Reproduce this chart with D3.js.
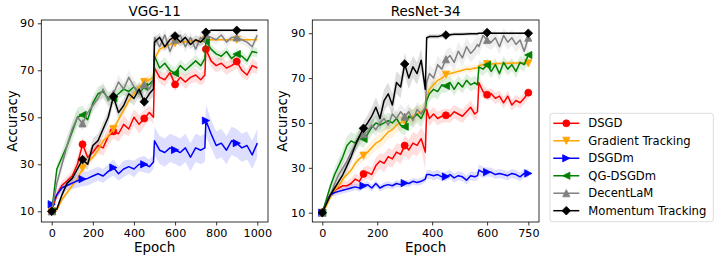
<!DOCTYPE html>
<html><head><meta charset="utf-8">
<script src="https://cdn.jsdelivr.net/npm/d3@7"></script>
<style>body{margin:0;background:#fff} svg{display:block;font-family:"DejaVu Sans",sans-serif}</style>
</head><body><svg id="c" width="719" height="260"></svg>
<script>
// ---------- DATA ----------
const methods = ["DSGD", "Gradient Tracking", "DSGDm", "QG-DSGDm", "DecentLaM", "Momentum Tracking"];
const colors = ["#ff0000", "#ffa500", "#0000ff", "#008000", "#808080", "#000000"];
const markerKinds = ["circle", "down", "right", "left", "up", "diamond"];
const yTicks = [10, 30, 50, 70, 90];

// VGG-11
const vggTitle = "VGG-11";
const vggXTicks = [0, 200, 400, 600, 800, 1000];
const vggMarkerEpochs = [0, 150, 300, 450, 600, 750, 900];
const vggEpochs = [0,25,50,75,100,125,150,175,200,225, 250,275,300,325,350,375,400,425,450,475, 495,500,525,550,575,600,625,650,675,700, 725,745,750,775,800,825,850,875,900,925, 950,975,1000];
const vggDSGD = [10,17,21,23,25,30,38.5,33,35,38, 37,42,44,43,47,45,50,47,49.5,52, 50,71,67,66,69,64,67,65,67,68, 66,68,79,74,72,73,71,72,73.7,70, 68,72,71];
const vggGT = [10,10.5,15,18,21,24,28.3,31,33,36, 40,42,45,49,53,57,60,63,65,66, 67,75,79,80,81,81.5,82,82,82.5,82.5, 82.5,82.5,82.9,83,83,83,83,83,83,83, 83,83,83];
const vggDSGDm = [13,17,20,21,22,23,23.7,24,25,26, 25,27,28.6,26,28,29,28,30,30,29, 31,40,36,35,37,36.1,35,37,33,37, 36,37,48.6,43,38,39,36,40,39,37, 38,34,39];
const vggQG = [10,28,33,38,44,50,51,49,56,60, 61,58,58,60,62,61,63,60,63,64, 66,76,71,73,70,68.7,72,70,72,74, 72,75,82.5,79,77,76,78,75,76.9,76, 74,78,77.5];
const vggDecentLaM = [10,22,30,38,45,50,47.4,52,55,58, 62,57,60,65,62,67,63,60,64,62, 66,84,80,85,78,83,85,80,84,79, 84,82,85,84,83,85,82,84,84,83, 82,80,85];
const vggMT = [10,11,17,22,24,28,32,30,38,40, 45,50,58.8,52,55,60,58,62,56.6,60, 62,82,84,80,83,84.6,82,84,81,83, 82,84,86.2,87,87,87,87,87,87,87, 87,87,87];
const vggDSGDStd = [0.5,1.5,2,2,2.5,3,3,3,3,3, 3.5,4,3,3.5,4,3,3.5,4,3.5,3, 3,3,2.5,3,2.5,3,2.5,3,2.5,3, 2.5,3,3,2.5,3,2.5,3,2.5,3,3, 2.5,3,2.5];
const vggGTStd = [0.5,0.5,1,1.5,1.5,2,2,2,2,2, 2,2,2,2,2,2,2,2,2,2, 2,2,1.5,1.5,1,1,1,1,1,1, 1,1,1,0.5,0.5,0.5,0.5,0.5,0.5,0.5, 0.5,0.5,0.5];
const vggDSGDmStd = [1,2,2,2,2.5,3,3,3,3,3, 3,3,3.5,3,3.5,3,3.5,3,3.5,3, 3,6,6,6,6,6,6,6,6,6, 6,6,7,6,6,6,6,6,6,6, 6,6,6];
const vggQGStd = [0.5,2,3,4,4,4,4,3,3,3, 3,3,2.5,2.5,2.5,2.5,2.5,2.5,2.5,2.5, 2.5,3,2.5,2.5,2.5,2.5,2.5,2.5,2.5,2.5, 2.5,2.5,2,2,2,2,2,2,2,2, 2,2,2];
const vggDecentLaMStd = [0.5,2,3,3,3,3,3,3,3,3, 3,3,3,3,3,3,3,3,3,3, 3,2.5,2.5,2.5,2.5,2.5,2.5,2.5,2.5,2.5, 2.5,2.5,2,2,2,2,2,2,2,2, 2,2,2];
const vggMTStd = [0.3,1,1.5,2,2,2.5,2.5,2.5,3,3, 3,3,3,3,3,3,3,3,3,3, 3,2,2,2,2,2,2,2,2,2, 2,2,1,0.5,0.5,0.5,0.5,0.5,0.5,0.5, 0.5,0.5,0.5];

// ResNet-34
const resTitle = "ResNet-34";
const resXTicks = [0, 200, 400, 600, 750];
const resMarkerEpochs = [0, 150, 300, 450, 600, 750];
const resEpochs = [0,15,30,45,60,75,90,105,120,135, 150,165,180,195,210,225,240,255,270,285, 300,315,330,345,360,375,380,390,405,420, 435,450,465,480,495,510,525,540,555,565, 570,585,600,615,630,645,660,675,690,705, 720,735,750];
const resDSGD = [10,15,18,20,21,22,22,23,25,24, 27.3,28,27,31,33,32,35,34,37,36, 39.9,38,41,40,43,37,56,52,54,52, 53,53.4,53,55,54,53,55,57,54,55, 68,64,62.6,63,61,62,59,62,58,60, 59,61,63.5];
const resGT = [10,13,17,20,22,25,27,29,32,34, 35.4,37,39,41,42,44,46,47,49,50, 51,52,53,54,55,56,62,65,67,69, 70,71.5,72,72.5,73,73.5,74,74,74.5,74.5, 75.5,76,76.2,76.3,76.4,76.5,76.5,76.6,76.6,76.7, 76.7,76.8,76.6];
const resDSGDm = [10,15,18,19,19.5,20,20.5,21,21.5,21, 22,22.5,21,23,21,22,22.5,22,23,22.5, 23.2,23,24,23.5,24,25,27,27,26.5,27, 26,26.1,27,25.5,26.5,26,24.5,26.5,26,26.5, 29,28,28.1,28,27,27.5,27,26.5,27.5,27, 26,27.5,27.5];
const resQG = [10,16,22,27,31,35,40,42,41,44, 42.9,45,48,50,49,50,51,50,52,49, 48.3,53,52,54,52,56,60,63,65,64, 67,66.5,68,65,68,66,69,67,68,67, 75,74,75.9,73,76,72,77,74,76,73, 77,76,80.3];
const resDecentLaM = [10,14,18,23,27,30,33,37,40,43, 45,46,49,47,50,52,49,54,52,55, 52.8,55,51,56,54,57,68,72,70,76, 74,78.4,80,77,82,79,84,81,83,85, 84,89,87,86,88,84,89,86,88,85, 87,82,88];
const resMT = [10,14,18,21,24,27,31,35,40,44, 47.6,50,53,57,52,60,63,58,68,66, 76.3,70,75,72,78,65,88,88.5,88.5,88.5, 89,89.2,89.3,89.5,89.5,89.6,89.7,89.8,89.8,89.8, 90,90,90.3,90,90,90,90,90,90,90, 90,90,90];
const resDSGDStd = [0.3,1,1.5,2,2,2,2,2.5,2.5,2.5, 3,3,3,3.5,3.5,4,4,4,4,4.5, 4.5,4.5,5,5,5,8,4,3.5,3,3, 3,3,3,3,3,3,3,3,3,3, 3,3,2.5,2.5,2.5,2.5,2.5,2.5,2.5,2.5, 2.5,2.5,2.5];
const resGTStd = [0.3,1,1,1.5,1.5,2,2,2,2,2.5, 2.5,3,3,3,3.5,3.5,3.5,3.5,3.5,3.5, 3.5,3.5,3.5,3.5,3.5,3.5,3,3,2.5,2, 2,2,1.5,1.5,1.5,1.5,1.5,1.5,1.5,1.5, 1,1,1,1,1,1,1,1,1,1, 1,1,1];
const resDSGDmStd = [0.3,1,1,1.5,1.5,1.5,1.5,1.5,1.5,1.5, 1.5,1.5,1.5,1.5,1.5,1.5,1.5,1.5,1.5,1.5, 1.5,1.5,1.5,1.5,1.5,1.5,2,2,2,2, 2,2,2,2,2,2,2,2,2,2, 2.5,2.5,2,2,2,2,2,2,2,2, 2,2,2];
const resQGStd = [0.3,1.5,2,3,3.5,3.5,4,4,4,4, 4,3.5,3.5,3.5,3.5,3.5,3.5,3.5,3.5,3.5, 4,4,4,4,4,4,4,3.5,3.5,3.5, 3.5,3,3,3,3,3,3,3,3,3, 3,3,3,3,3,3,3,3,3,3, 3,3,3];
const resDecentLaMStd = [0.3,1.5,2,2.5,3,3,3,3,3,3, 3,3,3,3,3,3,3,3,3.5,3.5, 3.5,3.5,3.5,3.5,3.5,3.5,4,4,4,4, 4,4,4,4,4,4,4,4,4,4, 4,3.5,3.5,3.5,3.5,3.5,3.5,3.5,3.5,3.5, 3.5,3.5,3.5];
const resMTStd = [0.3,1,1.5,2,2,2.5,3,3,3,3, 3,3.5,4,4.5,5,5,5,5,5,5, 5,5,5,5,5,5,1,1,1,1, 1,0.8,0.8,0.8,0.8,0.8,0.8,0.8,0.8,0.8, 0.5,0.5,0.5,0.5,0.5,0.5,0.5,0.5,0.5,0.5, 0.5,0.5,0.5];

// ---------- DRAW ----------
const svg = d3.select("#c");

function markerPath(kind) {
  const s = 3.6;
  if (kind === "circle") return d3.symbol(d3.symbolCircle, Math.PI * 3.5 * 3.5)();
  if (kind === "diamond") { const d = 4.3; return `M0,${-d}L${d},0L0,${d}L${-d},0Z`; }
  let pts;
  if (kind === "up") pts = [[0,-s],[-s,s],[s,s]];
  if (kind === "down") pts = [[0,s],[-s,-s],[s,-s]];
  if (kind === "right") pts = [[s,0],[-s,-s],[-s,s]];
  if (kind === "left") pts = [[-s,0],[s,-s],[s,s]];
  return "M" + pts.map(p => p.join(",")).join("L") + "Z";
}

function panel(cfg, idx) {
  const x = d3.scaleLinear().domain(cfg.xDomain).range([cfg.left, cfg.right]);
  const y = d3.scaleLinear().domain(cfg.yDomain).range([cfg.bottom, cfg.top]);
  const g = svg.append("g");
  const clipId = "clip" + idx;
  svg.append("clipPath").attr("id", clipId).append("rect")
    .attr("x", cfg.left).attr("y", cfg.top).attr("width", cfg.right - cfg.left).attr("height", cfg.bottom - cfg.top);
  const plot = g.append("g").attr("clip-path", `url(#${clipId})`);
  const ep = cfg.epochs;
  cfg.series.forEach((s, i) => {
    const area = d3.area().x((d, j) => x(ep[j])).y0((d, j) => y(d - s.std[j])).y1((d, j) => y(d + s.std[j]));
    plot.append("path").attr("d", area(s.values)).attr("fill", colors[i]).attr("fill-opacity", 0.13).attr("stroke", "none");
  });
  cfg.series.forEach((s, i) => {
    const line = d3.line().x((d, j) => x(ep[j])).y(d => y(d));
    plot.append("path").attr("d", line(s.values)).attr("fill", "none").attr("stroke", colors[i]).attr("stroke-width", 1.5).attr("stroke-linejoin", "round");
    cfg.markerEpochs.forEach(me => {
      const j = ep.lastIndexOf(me);
      if (j < 0) return;
      plot.append("path").attr("d", markerPath(markerKinds[i]))
        .attr("transform", `translate(${x(ep[j])},${y(s.values[j])})`)
        .attr("fill", colors[i]).attr("stroke", colors[i]).attr("stroke-width", 0.8);
    });
  });
  // axes
  const xa = g.append("g").attr("transform", `translate(0,${cfg.bottom})`)
    .call(d3.axisBottom(x).tickValues(cfg.xTicks).tickSize(3.5).tickPadding(3.2).tickFormat(d3.format("d")));
  const ya = g.append("g").attr("transform", `translate(${cfg.left},0)`)
    .call(d3.axisLeft(y).tickValues(yTicks).tickSize(3.5).tickPadding(3.5).tickFormat(d3.format("d")));
  [xa, ya].forEach(a => {
    a.select(".domain").remove();
    a.selectAll("line").attr("stroke", "#000").attr("stroke-width", 0.8);
    a.selectAll("text").attr("font-family", "DejaVu Sans").attr("font-size", 11.2).attr("fill", "#000");
  });
  g.append("rect").attr("x", cfg.left).attr("y", cfg.top).attr("width", cfg.right - cfg.left).attr("height", cfg.bottom - cfg.top)
    .attr("fill", "none").attr("stroke", "#000").attr("stroke-width", 0.8);
  g.append("text").attr("x", (cfg.left + cfg.right) / 2).attr("y", 16.3).attr("text-anchor", "middle")
    .attr("font-size", 13.5).text(cfg.title);
  g.append("text").attr("x", (cfg.left + cfg.right) / 2).attr("y", 252.2).attr("text-anchor", "middle")
    .attr("font-size", 13.5).text("Epoch");
  g.append("text").attr("transform", `translate(${cfg.ylabelX},${(cfg.top + cfg.bottom) / 2}) rotate(-90)`)
    .attr("text-anchor", "middle").attr("font-size", 13.5).text("Accuracy");
}

panel({
  title: vggTitle, left: 41.3, right: 268, top: 20, bottom: 222,
  xDomain: [-50.6, 1052], yDomain: [5.45, 91.4], xTicks: vggXTicks, markerEpochs: vggMarkerEpochs,
  epochs: vggEpochs, ylabelX: 16.5,
  series: [
    {values: vggDSGD, std: vggDSGDStd}, {values: vggGT, std: vggGTStd}, {values: vggDSGDm, std: vggDSGDmStd},
    {values: vggQG, std: vggQGStd}, {values: vggDecentLaM, std: vggDecentLaMStd}, {values: vggMT, std: vggMTStd}
  ]
}, 0);

panel({
  title: resTitle, left: 312.3, right: 539, top: 20, bottom: 222,
  xDomain: [-36.4, 788.9], yDomain: [5.85, 95.9], xTicks: resXTicks, markerEpochs: resMarkerEpochs,
  epochs: resEpochs, ylabelX: 286.5,
  series: [
    {values: resDSGD, std: resDSGDStd}, {values: resGT, std: resGTStd}, {values: resDSGDm, std: resDSGDmStd},
    {values: resQG, std: resQGStd}, {values: resDecentLaM, std: resDecentLaMStd}, {values: resMT, std: resMTStd}
  ]
}, 1);

// legend
const lg = svg.append("g");
lg.append("rect").attr("x", 550).attr("y", 113.3).attr("width", 163.3).attr("height", 108.4).attr("rx", 2.5)
  .attr("fill", "#fff").attr("stroke", "#d4d4d4").attr("stroke-width", 0.8);
methods.forEach((m, i) => {
  const cy = 123.3 + i * 17.48;
  lg.append("line").attr("x1", 553.3).attr("x2", 579.3).attr("y1", cy).attr("y2", cy).attr("stroke", colors[i]).attr("stroke-width", 1.5);
  lg.append("path").attr("d", markerPath(markerKinds[i])).attr("transform", `translate(566.3,${cy})`)
    .attr("fill", colors[i]).attr("stroke", colors[i]).attr("stroke-width", 0.8);
  lg.append("text").attr("x", 588.3).attr("y", cy).attr("dy", "0.36em").attr("font-size", 11.6).text(m);
});
</script></body></html>
